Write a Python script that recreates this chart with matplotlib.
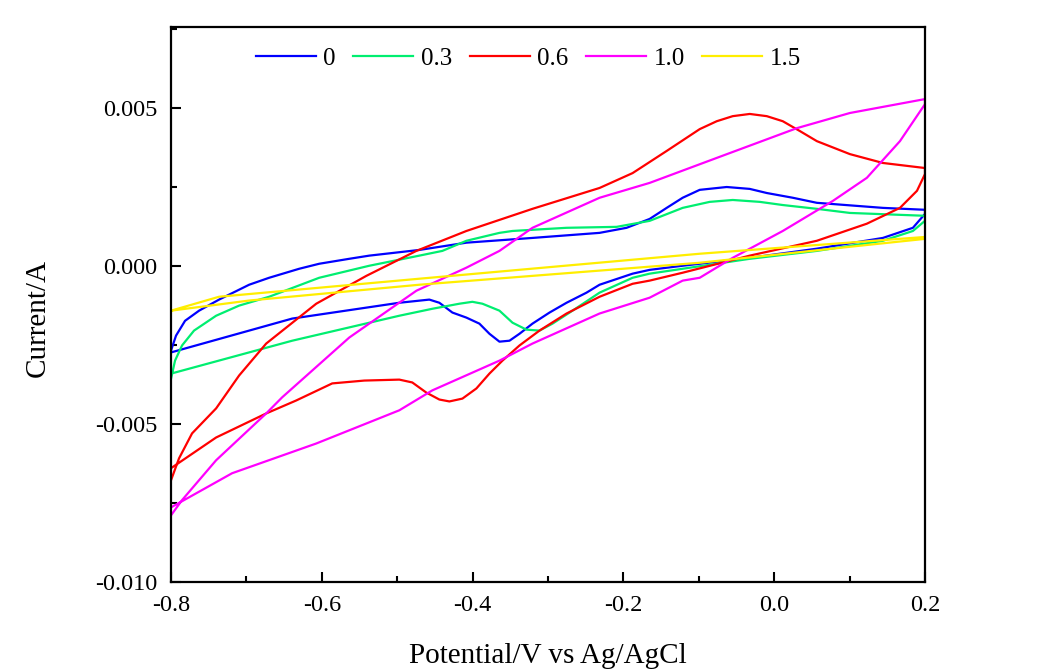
import numpy as np
import matplotlib
matplotlib.use('Agg')
import matplotlib.pyplot as plt
from matplotlib.ticker import MultipleLocator, FormatStrFormatter

plt.rcParams['font.family'] = ['Liberation Serif', 'DejaVu Serif']
plt.rcParams['axes.unicode_minus'] = False

# scan rate labels
labels = ['0', '0.3', '0.6', '1.0', '1.5']
colors = ['#0000ff', '#00ee70', '#ff0000', '#ff00ff', '#ffee00']

# each curve is one closed loop: anodic sweep -0.8 -> 0.2 then back
v0 = [-0.8, -0.7934, -0.7814, -0.7628, -0.7363, -0.6964, -0.6699, -0.630, -0.6035, -0.5636, -0.5371,
      -0.4707, -0.4082, -0.3206, -0.2316, -0.1958,
      -0.1652, -0.1426, -0.1214, -0.0988, -0.063, -0.0324, -0.0098, 0.0247, 0.0566, 0.1442, 0.2,
      0.2, 0.184, 0.1442, 0.0566, -0.0324, -0.1214, -0.1652, -0.1878, -0.2316, -0.2489, -0.2754,
      -0.298, -0.3206, -0.3378, -0.3511, -0.3644, -0.3777, -0.391, -0.4082, -0.4268, -0.4441,
      -0.4574, -0.4972, -0.6393, -0.8]
i0 = [-0.00268, -0.00221, -0.00174, -0.00142, -0.00107, -0.0006, -0.00038, -0.000095, 0.000063, 0.00022, 0.00032,
      0.0005, 0.00073, 0.00088, 0.00104, 0.0012,
      0.00148, 0.00183, 0.00215, 0.0024, 0.00249, 0.00243, 0.0023, 0.00215, 0.00199, 0.00183, 0.00177,
      0.00164, 0.0012, 0.00088, 0.00054, 0.00025, 0.0, -0.00013, -0.00025, -0.0006, -0.00085, -0.00117,
      -0.00148, -0.00183, -0.00215, -0.00237, -0.0024, -0.00215, -0.00183, -0.00164, -0.00148, -0.00117,
      -0.00107, -0.00117, -0.00167, -0.00274]

v1 = [-0.8, -0.7947, -0.7854, -0.7695, -0.7402, -0.7097, -0.6699, -0.6035, -0.5371, -0.4707, -0.4401,
      -0.4082, -0.3644, -0.3471,
      -0.2754, -0.209, -0.1652, -0.1214, -0.0855, -0.055, -0.0191, 0.0114, 0.0566, 0.1004, 0.2,
      0.2, 0.184, 0.1442, 0.0566, -0.0324, -0.1214, -0.1652, -0.1878, -0.2316, -0.2675, -0.294,
      -0.3113, -0.3286, -0.3471, -0.3644, -0.387, -0.4003, -0.4175, -0.4534, -0.4972, -0.6393, -0.8]
i1 = [-0.00357, -0.003, -0.00252, -0.00205, -0.00158, -0.00126, -0.00098, -0.00038, 0.0, 0.00032, 0.00047,
      0.00079, 0.00104, 0.0011,
      0.0012, 0.00123, 0.00142, 0.00183, 0.00202, 0.00208, 0.00202, 0.00192, 0.0018, 0.00167, 0.00158,
      0.00142, 0.0011, 0.00079, 0.00047, 0.00022, -0.000095, -0.00025, -0.00038, -0.00085, -0.00142, -0.00183,
      -0.00205, -0.00202, -0.0018, -0.00142, -0.0012, -0.00114, -0.0012, -0.00136, -0.00158, -0.00237, -0.00341]

v2 = [-0.8, -0.7894, -0.7721, -0.7402, -0.7097, -0.6738, -0.6074, -0.541, -0.4746, -0.4082, -0.3206,
      -0.2316, -0.1878, -0.1426, -0.0988, -0.0762, -0.055, -0.0324, -0.0098, 0.0114, 0.034, 0.0566,
      0.1004, 0.1442, 0.2,
      0.2, 0.1894, 0.1668, 0.1229, 0.0566, -0.0324, -0.1214, -0.1652, -0.1878, -0.2316, -0.2754,
      -0.3113, -0.3378, -0.3604, -0.3777, -0.395, -0.4135, -0.4308, -0.4441, -0.4614, -0.48,
      -0.4972, -0.5436, -0.5862, -0.634, -0.6738, -0.7402, -0.8]
i2 = [-0.00678, -0.00609, -0.0053, -0.00451, -0.00347, -0.00246, -0.0012, -0.00032, 0.00047, 0.0011, 0.0018,
      0.00246, 0.00293, 0.00363, 0.00432, 0.00457, 0.00473, 0.0048, 0.00473, 0.00457, 0.00426, 0.00394,
      0.00353, 0.00325, 0.00309,
      0.0029, 0.00237, 0.00183, 0.00133, 0.00079, 0.00032, -0.00022, -0.00047, -0.00057, -0.00098, -0.00151,
      -0.00205, -0.00252, -0.003, -0.00341, -0.00388, -0.0042, -0.00429, -0.00423, -0.00401, -0.00369,
      -0.0036, -0.00363, -0.00372, -0.00426, -0.00467, -0.00543, -0.0064]

v3 = [-0.8, -0.7854, -0.7402, -0.6738, -0.6526, -0.5636, -0.4746, -0.4082, -0.3644, -0.3206,
      -0.2316, -0.1652, -0.0762, 0.03, 0.1004, 0.2,
      0.2, 0.1668, 0.1229, 0.0778, 0.0114, -0.055, -0.0988, -0.1214, -0.1652, -0.2316,
      -0.3206, -0.3644, -0.4534, -0.4972, -0.6074, -0.719, -0.8]
i3 = [-0.00789, -0.00741, -0.00615, -0.00467, -0.00416, -0.00227, -0.00079, -0.00006, 0.00047, 0.0012,
      0.00215, 0.00262, 0.00341, 0.00435, 0.00483, 0.00527,
      0.00511, 0.00394, 0.00278, 0.00205, 0.0011, 0.00025, -0.00038, -0.00047, -0.00101, -0.00151,
      -0.00246, -0.003, -0.00394, -0.00457, -0.00562, -0.00656, -0.00764]

v4 = [-0.8, -0.7363, -0.4707, -0.0988, 0.2,
      0.2, 0.1004, -0.0988, -0.4707, -0.6964, -0.8]
i4 = [-0.00142, -0.00098, -0.00041, 0.00038, 0.00091,
      0.00085, 0.0006, 0.000095, -0.0006, -0.0011, -0.00142]

potentials = [v0, v1, v2, v3, v4]
currents = [i0, i1, i2, i3, i4]

fig = plt.figure(figsize=(10.61, 6.71), dpi=100)
ax = fig.add_axes([0.1612, 0.1326, 0.7106, 0.8272])

for v, i, c, lab in zip(potentials, currents, colors, labels):
    ax.plot(v, i, color=c, lw=1.6, label=lab, solid_joinstyle='round')

ax.set_xlim(-0.8, 0.2)
ax.set_ylim(-0.010, 0.00755)
ax.xaxis.set_major_locator(MultipleLocator(0.2))
ax.xaxis.set_minor_locator(MultipleLocator(0.1))
ax.yaxis.set_major_locator(MultipleLocator(0.005))
ax.yaxis.set_minor_locator(MultipleLocator(0.0025))
ax.xaxis.set_major_formatter(FormatStrFormatter('%.1f'))
ax.yaxis.set_major_formatter(FormatStrFormatter('%.3f'))
ax.tick_params(which='both', direction='in', top=False, right=False, width=1.5, labelsize=17.5)
ax.tick_params(axis='y', pad=10)
ax.tick_params(axis='x', pad=9)
ax.tick_params(which='major', length=7)
ax.tick_params(which='minor', length=4)
for s in ax.spines.values():
    s.set_linewidth(1.6)

ax.set_xlabel('Potential/V vs Ag/AgCl', fontsize=21, labelpad=20)
ax.set_ylabel('Current/A', fontsize=21)
ax.yaxis.set_label_coords(-0.16, 0.476)

ax.legend(loc='center', bbox_to_anchor=(0.474, 0.943), ncol=5, frameon=False,
          fontsize=18, handlelength=2.4, handletextpad=0.3, columnspacing=0.7,
          borderpad=0.2)

fig.savefig('out.png', dpi=100)
